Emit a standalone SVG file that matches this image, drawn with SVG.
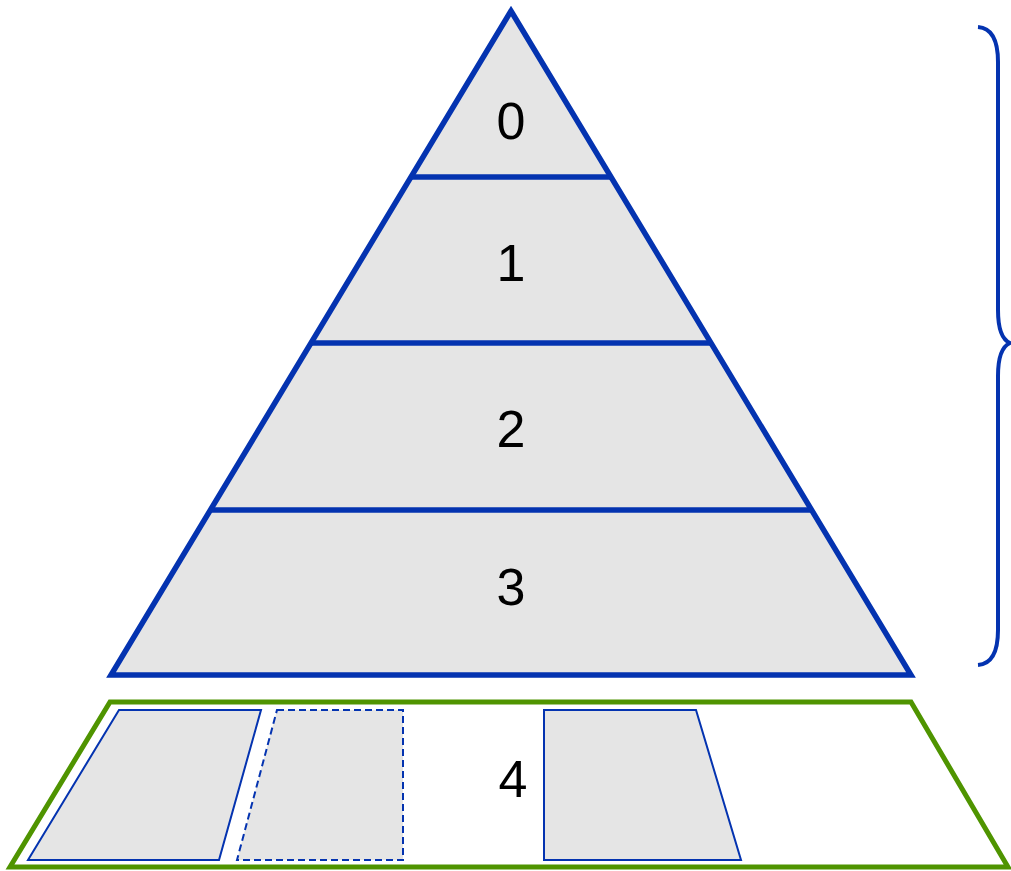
<svg xmlns="http://www.w3.org/2000/svg" width="1011" height="871" viewBox="0 0 1011 871">
<style>
.lvl{fill:#e5e5e5;stroke:#0433b0;stroke-width:5.5;stroke-linejoin:miter}
.div{fill:none;stroke:#0433b0;stroke-width:5.5}
.lbl{font-family:"Liberation Sans",Arial,sans-serif;font-size:52px;fill:#000;text-anchor:middle}
.box{fill:#e5e5e5;stroke:#0433b0;stroke-width:2}
.dash{stroke-dasharray:7 4}
</style>
<rect width="1011" height="871" fill="#fff"/>
<g id="pyramid">
<polygon class="lvl" points="511,11 911,675 111,675"/>
</g>
<g id="dividers">
<line class="div" x1="411" y1="177" x2="611" y2="177"/>
<line class="div" x1="311" y1="343" x2="711" y2="343"/>
<line class="div" x1="211" y1="510" x2="811" y2="510"/>
</g>
<g id="level0"><text class="lbl" x="511" y="139">0</text></g>
<g id="level1"><text class="lbl" x="511" y="281">1</text></g>
<g id="level2"><text class="lbl" x="511" y="447">2</text></g>
<g id="level3"><text class="lbl" x="511" y="605">3</text></g>
<g id="level4">
<polygon points="110,702 911,702 1008,867 10,867" fill="#fff" stroke="#4f9400" stroke-width="5"/>
<polygon class="box" points="119,710 261,710 219,860 28,860"/>
<polygon class="box dash" points="277,710 403,710 403,860 237,860"/>
<polygon class="box" points="544,710 696,710 741,860 544,860"/>
<text class="lbl" x="513" y="797">4</text>
</g>
<g id="brace">
<path d="M978,27 C992,28 998,40 998,62 L998,310 C998,330 1003,340 1010,343 C1003,346 998,356 998,376 L998,630 C998,652 992,664 978,665" fill="none" stroke="#0433b0" stroke-width="4"/>
</g>
</svg>
